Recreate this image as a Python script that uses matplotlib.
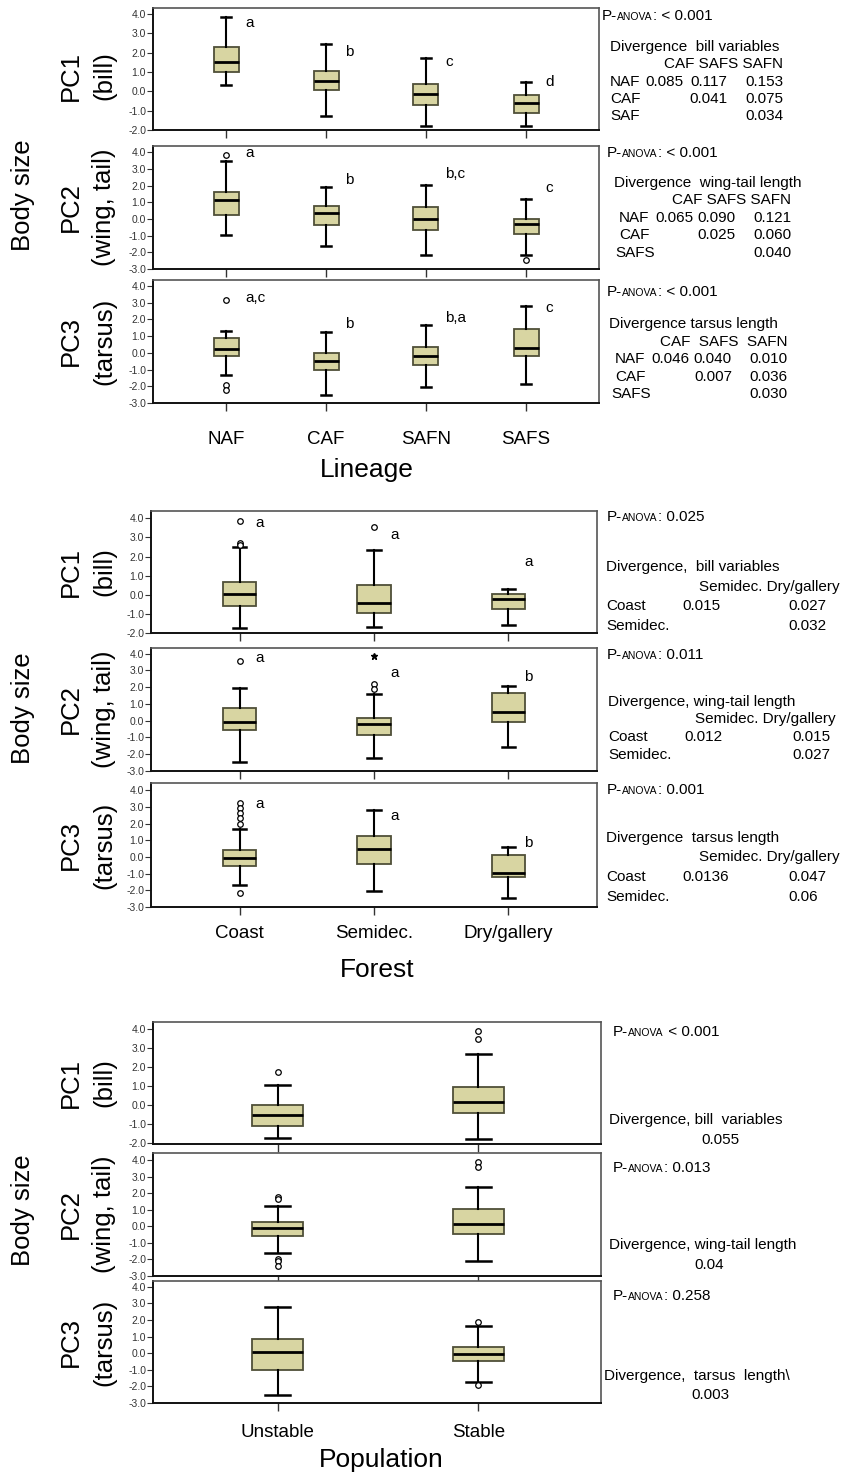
import numpy as np
import matplotlib
matplotlib.use('Agg')
import matplotlib.pyplot as plt

plt.rcParams['font.family'] = ['Liberation Sans', 'DejaVu Sans']

# ---------------- data ----------------
# box stats per category: [whisker low, q1, median, q3, whisker high]
lineage = ['NAF', 'CAF', 'SAFN', 'SAFS']
lin_pc1_box = [[0.31, 0.97, 1.50, 2.28, 3.81], [-1.29, 0.05, 0.55, 1.03, 2.43],
               [-1.79, -0.71, -0.16, 0.38, 1.71], [-1.78, -1.14, -0.60, -0.19, 0.48]]
lin_pc1_out = [[], [], [], []]
lin_pc1_let = ['a', 'b', 'c', 'd']
lin_pc1_let_y = [3.50, 2.05, 1.53, 0.50]

lin_pc2_box = [[-0.94, 0.22, 1.16, 1.64, 3.48], [-1.64, -0.34, 0.36, 0.80, 1.92],
               [-2.18, -0.68, -0.02, 0.72, 2.06], [-2.14, -0.90, -0.30, 0.02, 1.18]]
lin_pc2_out = [[3.86], [], [], [-2.46]]
lin_pc2_let = ['a', 'b', 'b,c', 'c']
lin_pc2_let_y = [3.96, 2.36, 2.72, 1.86]

lin_pc3_box = [[-1.34, -0.20, 0.24, 0.86, 1.30], [-2.50, -1.00, -0.46, 0.00, 1.26],
               [-2.06, -0.70, -0.20, 0.38, 1.66], [-1.88, -0.20, 0.30, 1.44, 2.80]]
lin_pc3_out = [[3.16, -1.90, -2.20], [], [], []]
lin_pc3_let = ['a,c', 'b', 'b,a', 'c']
lin_pc3_let_y = [3.30, 1.70, 2.06, 2.70]

forest = ['Coast', 'Semidec.', 'Dry/gallery']
for_pc1_box = [[-1.74, -0.59, 0.02, 0.66, 2.49], [-1.70, -0.97, -0.43, 0.52, 2.35],
               [-1.57, -0.73, -0.21, 0.05, 0.31]]
for_pc1_out = [[3.85, 2.72, 2.62], [3.53], []]
for_pc1_let = ['a', 'a', 'a']
for_pc1_let_y = [3.77, 3.11, 1.70]

for_pc2_box = [[-2.45, -0.53, -0.05, 0.73, 1.96], [-2.25, -0.85, -0.17, 0.18, 1.60],
               [-1.57, -0.10, 0.50, 1.65, 2.08]]
for_pc2_out = [[3.56], [2.22, 1.92], []]
for_pc2_ext = [[], [3.84], []]
for_pc2_let = ['a', 'a', 'b']
for_pc2_let_y = [3.73, 2.82, 2.62]

for_pc3_box = [[-1.70, -0.56, -0.06, 0.40, 1.68], [-2.02, -0.42, 0.50, 1.24, 2.84],
               [-2.46, -1.20, -0.96, 0.12, 0.60]]
for_pc3_out = [[3.24, 2.94, 2.64, 2.34, 2.00, -2.16], [], []]
for_pc3_let = ['a', 'a', 'b']
for_pc3_let_y = [3.20, 2.44, 0.84]

population = ['Unstable', 'Stable']
pop_pc1_box = [[-1.74, -1.10, -0.50, 0.00, 1.08], [-1.79, -0.42, 0.16, 0.96, 2.71]]
pop_pc1_out = [[1.74], [3.91, 3.51]]
pop_pc2_box = [[-1.58, -0.60, -0.11, 0.29, 1.26], [-2.07, -0.47, 0.15, 1.06, 2.37]]
pop_pc2_out = [[1.78, 1.66, -1.95, -2.10, -2.40], [3.90, 3.60]]
pop_pc3_box = [[-2.52, -1.02, 0.08, 0.84, 2.76], [-1.76, -0.46, -0.06, 0.38, 1.64]]
pop_pc3_out = [[], [1.90, -1.94]]

pc_names = ['PC1', 'PC2', 'PC3']
pc_sub = ['(bill)', '(wing, tail)', '(tarsus)']

lin_pvals = [': < 0.001', ': < 0.001', ': < 0.001']
for_pvals = [': 0.025', ': 0.011', ': 0.001']
pop_pvals = [' < 0.001', ': 0.013', ': 0.258']

lin_div_title = ['Divergence  bill variables', 'Divergence  wing-tail length', 'Divergence tarsus length']
lin_div_head = ['CAF SAFS SAFN', 'CAF SAFS SAFN', 'CAF  SAFS  SAFN']
lin_div_rows = [['NAF', 'CAF', 'SAF'], ['NAF', 'CAF', 'SAFS'], ['NAF', 'CAF', 'SAFS']]
lin_div_vals = [[['0.085', '0.117', '0.153'], ['', '0.041', '0.075'], ['', '', '0.034']],
                [['0.065', '0.090', '0.121'], ['', '0.025', '0.060'], ['', '', '0.040']],
                [['0.046', '0.040', '0.010'], ['', '0.007', '0.036'], ['', '', '0.030']]]

for_div_title = ['Divergence,  bill variables', 'Divergence, wing-tail length', 'Divergence  tarsus length']
for_div_head = 'Semidec. Dry/gallery'
for_div_rows = ['Coast', 'Semidec.']
for_div_vals = [[['0.015', '0.027'], ['', '0.032']],
                [['0.012', '0.015'], ['', '0.027']],
                [['0.0136', '0.047'], ['', '0.06']]]

pop_div_title = ['Divergence, bill  variables', 'Divergence, wing-tail length', 'Divergence,  tarsus  length\\']
pop_div_vals = ['0.055', '0.04', '0.003']

# ---------------- drawing ----------------
W, H = 844, 1474
BOX_FACE = '#d8d5a2'
BOX_EDGE = '#4f4f38'
FS_TXT = 11
FS_LAB = 18.5

fig = plt.figure(figsize=(W / 100, H / 100), dpi=100)


def fx(x):
    return x / W


def fy(y):
    return 1 - y / H


def panel(rect, xlim, ylim, box, out, cats, capw, labels=False, pad=8,
          letters=None, let_y=None, ldx=0.18, ext=None):
    left, top, right, bottom = rect
    ax = fig.add_axes([fx(left), fy(bottom), (right - left) / W, (bottom - top) / H])
    pos = np.arange(1, len(cats) + 1)
    stats = [dict(whislo=b[0], q1=b[1], med=b[2], q3=b[3], whishi=b[4], fliers=o)
             for b, o in zip(box, out)]
    ax.bxp(stats, positions=pos, widths=0.25, capwidths=capw, patch_artist=True,
           manage_ticks=False,
           boxprops=dict(facecolor=BOX_FACE, edgecolor=BOX_EDGE, linewidth=1.3),
           medianprops=dict(color='black', linewidth=2),
           whiskerprops=dict(color='black', linewidth=1.5),
           capprops=dict(color='black', linewidth=1.8),
           flierprops=dict(marker='o', markerfacecolor='white', markeredgecolor='black',
                           markersize=4, markeredgewidth=0.9))
    if ext is not None:
        for p, e in zip(pos, ext):
            if e:
                ax.plot([p] * len(e), e, ls='none', marker='*', ms=5, color='black')
    if letters is not None:
        for p, t, y in zip(pos, letters, let_y):
            ax.text(p + ldx, y, t, fontsize=FS_TXT, ha='left', va='center')
    ax.set_xlim(*xlim)
    ax.set_ylim(*ylim)
    yt = np.arange(np.ceil(ylim[0]), 4.01, 1.0)
    ax.set_yticks(yt)
    ax.set_yticklabels(['%.1f' % v for v in yt])
    ax.set_xticks(pos)
    if labels:
        ax.set_xticklabels(cats)
    else:
        ax.set_xticklabels([])
    ax.tick_params(axis='y', direction='out', length=4, width=0.8, labelsize=7.5,
                   labelcolor='#333333', color='#333333', pad=1)
    ax.tick_params(axis='x', direction='out', length=6, width=1, color='#333333',
                   labelsize=13.5, pad=pad)
    for s in ['top', 'right']:
        ax.spines[s].set_color('#555555')
        ax.spines[s].set_linewidth(1.2)
    for s in ['left', 'bottom']:
        ax.spines[s].set_color('#111111')
        ax.spines[s].set_linewidth(1.4)
    return ax


def pval(ax, x, y, suffix):
    # "P-" + small-caps "ANOVA" + rest of the text
    t1 = fig.text(fx(x), fy(y), 'P-', fontsize=FS_TXT, va='center')
    t2 = ax.annotate('ANOVA', xy=(1, 0), xycoords=(t1, t1), xytext=(0, 0.75),
                     textcoords='offset points', fontsize=7.5, va='bottom',
                     annotation_clip=False)
    ax.annotate(suffix, xy=(1, 0), xycoords=(t2, t1), fontsize=FS_TXT, va='bottom',
                annotation_clip=False)


# Group 1: lineage
g1_rects = [(153, 8, 599, 130), (153, 146, 599, 269), (153, 280, 599, 403)]
g1_ylims = [(-2.0, 4.3), (-3.0, 4.38), (-3.0, 4.36)]
g1_box = [lin_pc1_box, lin_pc2_box, lin_pc3_box]
g1_out = [lin_pc1_out, lin_pc2_out, lin_pc3_out]
g1_let = [lin_pc1_let, lin_pc2_let, lin_pc3_let]
g1_let_y = [lin_pc1_let_y, lin_pc2_let_y, lin_pc3_let_y]
g1_p_xy = [(602, 16), (607, 153), (607, 292)]
g1_title_xy = [(610, 47), (614, 183), (609, 324)]
g1_head_y = [64, 200, 342]
g1_row_y = [[82, 99, 116], [218, 235, 253], [359, 377, 394]]
g1_row_x = [[610, 610, 610], [619, 619, 615], [615, 615, 611]]
g1_cols = [[684, 727, 783], [693, 736, 791], [689, 732, 788]]

for i in range(3):
    ax = panel(g1_rects[i], (0.27, 4.73), g1_ylims[i], g1_box[i], g1_out[i], lineage,
               0.1, labels=(i == 2), pad=14, letters=g1_let[i], let_y=g1_let_y[i], ldx=0.19)
    pval(ax, g1_p_xy[i][0], g1_p_xy[i][1], lin_pvals[i])
    fig.text(fx(g1_title_xy[i][0]), fy(g1_title_xy[i][1]), lin_div_title[i],
             fontsize=FS_TXT, va='center')
    fig.text(fx(g1_cols[i][2]), fy(g1_head_y[i]), lin_div_head[i], fontsize=FS_TXT,
             va='center', ha='right')
    for r in range(3):
        fig.text(fx(g1_row_x[i][r]), fy(g1_row_y[i][r]), lin_div_rows[i][r],
                 fontsize=FS_TXT, va='center')
        for c in range(3):
            fig.text(fx(g1_cols[i][c]), fy(g1_row_y[i][r]), lin_div_vals[i][r][c],
                     fontsize=FS_TXT, va='center', ha='right')

# Group 2: forest
g2_rects = [(151, 511, 597, 633), (151, 648, 597, 771), (151, 783, 597, 907)]
g2_ylims = [(-2.0, 4.38), (-3.0, 4.34), (-3.0, 4.44)]
g2_box = [for_pc1_box, for_pc2_box, for_pc3_box]
g2_out = [for_pc1_out, for_pc2_out, for_pc3_out]
g2_ext = [None, for_pc2_ext, None]
g2_let = [for_pc1_let, for_pc2_let, for_pc3_let]
g2_let_y = [for_pc1_let_y, for_pc2_let_y, for_pc3_let_y]
g2_p_y = [517, 655, 790]
g2_title_y = [567, 702, 838]
g2_head_y = [587, 719, 857]
g2_row_y = [[606, 626], [737, 755], [877, 897]]
g2_lx = [606, 608, 606]
g2_cols = [[682, 788], [684, 792], [682, 788]]
g2_head_r = [840, 836, 840]

for i in range(3):
    ax = panel(g2_rects[i], (0.34, 3.66), g2_ylims[i], g2_box[i], g2_out[i], forest,
               0.1, labels=(i == 2), pad=7, letters=g2_let[i], let_y=g2_let_y[i],
               ldx=0.12, ext=g2_ext[i])
    pval(ax, 607, g2_p_y[i], for_pvals[i])
    fig.text(fx(g2_lx[i]), fy(g2_title_y[i]), for_div_title[i], fontsize=FS_TXT, va='center')
    fig.text(fx(g2_head_r[i]), fy(g2_head_y[i]), for_div_head, fontsize=FS_TXT,
             va='center', ha='right')
    for r in range(2):
        fig.text(fx(g2_lx[i]), fy(g2_row_y[i][r]), for_div_rows[r], fontsize=FS_TXT,
                 va='center')
        for c in range(2):
            fig.text(fx(g2_cols[i][c]), fy(g2_row_y[i][r]), for_div_vals[i][r][c],
                     fontsize=FS_TXT, va='center')

# Group 3: population
g3_rects = [(153, 1022, 601, 1144), (153, 1153, 601, 1276), (153, 1281, 601, 1403)]
g3_ylims = [(-2.05, 4.38), (-3.0, 4.44), (-3.0, 4.34)]
g3_box = [pop_pc1_box, pop_pc2_box, pop_pc3_box]
g3_out = [pop_pc1_out, pop_pc2_out, pop_pc3_out]
g3_p_y = [1032, 1168, 1296]
g3_title = [(609, 1120), (609, 1245), (604, 1376)]
g3_val = [(720, 1140), (709, 1265), (710, 1395)]

for i in range(3):
    ax = panel(g3_rects[i], (0.38, 2.61), g3_ylims[i], g3_box[i], g3_out[i], population,
               0.125, labels=(i == 2), pad=9)
    pval(ax, 613, g3_p_y[i], pop_pvals[i])
    fig.text(fx(g3_title[i][0]), fy(g3_title[i][1]), pop_div_title[i], fontsize=FS_TXT,
             va='center')
    fig.text(fx(g3_val[i][0]), fy(g3_val[i][1]), pop_div_vals[i], fontsize=FS_TXT,
             va='center', ha='center')

# y-axis labels (PC names + Body size)
all_rects = [g1_rects, g2_rects, g3_rects]
for g, rects in enumerate(all_rects):
    for i, (l, t, r, b) in enumerate(rects):
        yc = (t + b) / 2
        if g == 0 and i == 0:
            yc += 7
        fig.text(fx(71), fy(yc), pc_names[i], rotation=90, fontsize=FS_LAB,
                 ha='center', va='center')
        fig.text(fx(104), fy(yc), pc_sub[i], rotation=90, fontsize=FS_LAB,
                 ha='center', va='center')

for yc in [195, 708, 1210]:
    fig.text(fx(23), fy(yc), 'Body size', rotation=90, fontsize=FS_LAB,
             ha='center', va='center')

fig.text(fx(367), fy(470), 'Lineage', fontsize=19, ha='center', va='center')
fig.text(fx(377), fy(970), 'Forest', fontsize=19, ha='center', va='center')
fig.text(fx(381), fy(1460), 'Population', fontsize=19, ha='center', va='center')

fig.savefig('out.png', dpi=100)
